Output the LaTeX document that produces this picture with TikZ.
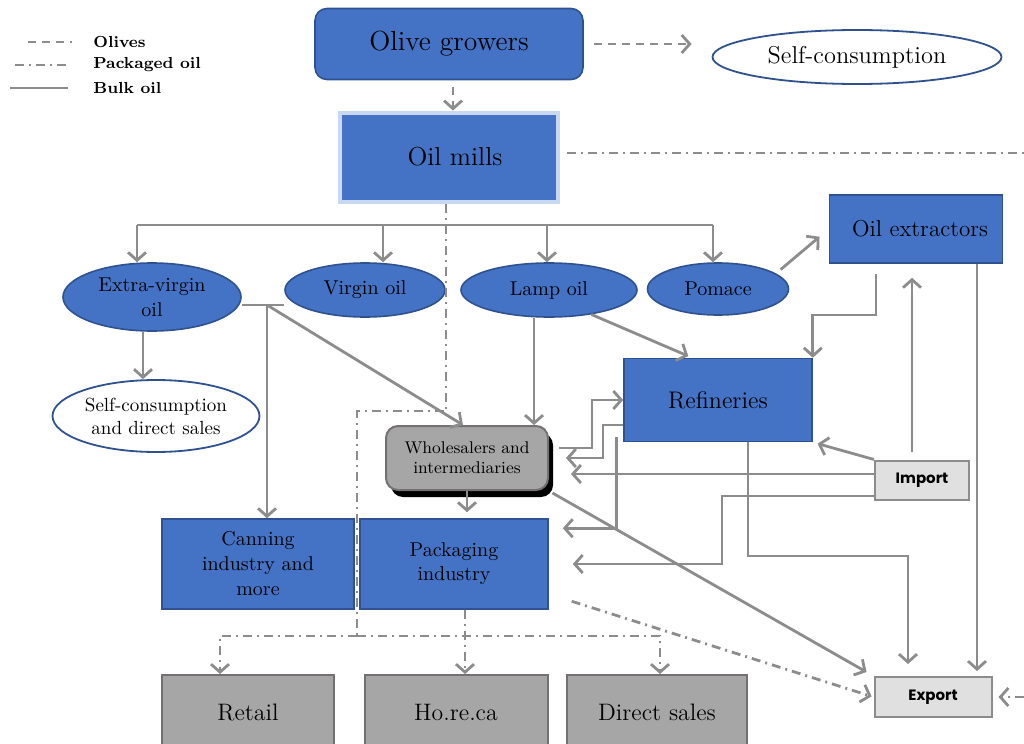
\documentclass[tikz,border=0pt]{standalone}
\usepackage{fontspec}
\newfontfamily\gothicfont{Poppins}
\usetikzlibrary{shapes.geometric, arrows.meta, positioning, calc, shadows}

\definecolor{millblue}{HTML}{4472C4}
\definecolor{milledge}{HTML}{2F528F}
\definecolor{glowblue}{HTML}{C9D8F2}
\definecolor{flowgray}{HTML}{8C8C8C}
\definecolor{shopgray}{HTML}{A6A6A6}
\definecolor{shopedge}{HTML}{767171}
\definecolor{tradegray}{HTML}{E0E0E0}

\begin{document}
\begin{tikzpicture}[
    x=0.5pt, y=-0.5pt,
    stage/.style={rectangle, draw=milledge, line width=0.8pt, fill=millblue, align=center, inner sep=2pt, font=\fontsize{10pt}{12.5pt}\selectfont},
    product/.style={ellipse, draw=milledge, line width=0.8pt, fill=millblue, inner sep=0pt, align=center, font=\fontsize{10pt}{12.5pt}\selectfont},
    outlet/.style={ellipse, draw=milledge, line width=0.9pt, fill=white, inner sep=0pt, align=center},
    shop/.style={rectangle, draw=shopedge, line width=1pt, fill=shopgray, minimum height=37.5pt, font=\fontsize{11.9pt}{13pt}\selectfont},
    trade/.style={rectangle, draw=flowgray, line width=1pt, fill=tradegray, font=\gothicfont\bfseries\fontsize{7.5pt}{9pt}\selectfont},
    legendtext/.style={anchor=west, inner sep=0pt, font=\bfseries\fontsize{8pt}{9pt}\selectfont},
    bulk/.style={draw=flowgray, line width=1.4pt},
    olives/.style={bulk, dash pattern=on 4pt off 3pt},
    packed/.style={bulk, dash pattern=on 4.5pt off 2.5pt on 1pt off 2.5pt},
    tip/.style={-{Straight Barb[length=4pt, width=9pt]}},
    arrow/.style={bulk, tip},
    olivearrow/.style={olives, tip},
    packedarrow/.style={packed, tip}
]
\useasboundingbox (0,0) rectangle (1024,744);

% legend
\node (lgolive) [legendtext] at (93,42) {Olives};
\node (lgpack) [legendtext] at (93,65) {Packaged oil};
\node (lgbulk) [legendtext] at (93,88) {Bulk oil};
\draw [olives] (28,42) -- (72,42);
\draw [packed] (15,65) -- (70,65);
\draw [bulk] (10,88) -- (68,88);

% growers and mills
\node (grow) [stage, rounded corners=6pt, minimum width=134pt, minimum height=35.5pt, font=\fontsize{13.8pt}{16pt}\selectfont] at (449,44) {Olive growers};
\node (selfc) [outlet, minimum width=144.5pt, minimum height=27pt, font=\fontsize{12.2pt}{14pt}\selectfont] at (857,57) {Self-consumption};
\node (mills) [stage, draw=glowblue, line width=2pt, minimum width=109pt, minimum height=44.5pt, font=\fontsize{13pt}{15pt}\selectfont] at (449,157) {\hspace*{6pt}Oil mills};

% oils
\node (evo) [product, minimum width=89pt, minimum height=34pt] at (152,297) {Extra-virgin\\oil};
\node (virgin) [product, minimum width=80pt, minimum height=27pt] at (365,290) {Virgin oil};
\node (lamp) [product, minimum width=88pt, minimum height=27pt] at (549,290) {Lamp oil};
\node (pomace) [product, minimum width=70.5pt, minimum height=26pt] at (718,289) {Pomace};
\node (selfd) [outlet, minimum width=103.5pt, minimum height=36pt, font=\fontsize{9.5pt}{11.5pt}\selectfont] at (156,416) {Self-consumption\\and direct sales};

% processing
\node (extr) [stage, minimum width=86.5pt, minimum height=34pt, font=\fontsize{11.5pt}{13pt}\selectfont] at (916,229) {\hspace*{4pt}Oil extractors};
\node (refin) [stage, minimum width=94pt, minimum height=41.5pt, font=\fontsize{12pt}{14pt}\selectfont] at (718,400) {Refineries};
\node (whole) [rectangle, rounded corners=6pt, draw=shopedge, line width=1pt, fill=shopgray, align=center, minimum width=81pt, minimum height=32pt, font=\fontsize{8.5pt}{10pt}\selectfont, drop shadow={shadow xshift=2.5pt, shadow yshift=-3.5pt, fill=black, opacity=1}] at (467,458) {Wholesalers and\\intermediaries};
\node (can) [stage, minimum width=96pt, minimum height=45pt] at (258,564) {Canning\\industry and\\more};
\node (pack) [stage, minimum width=94pt, minimum height=45pt, font=\fontsize{10pt}{12pt}\selectfont] at (454,564) {Packaging\\industry};
\node (imp) [trade, minimum width=47pt, minimum height=19.5pt] at (922,480) {Import};
\node (exp) [trade, minimum width=58.5pt, minimum height=20pt] at (933,697) {Export};

% outlets
\node (retail) [shop, minimum width=86pt] at (248,712.5) {Retail};
\node (horeca) [shop, minimum width=91.5pt] at (456,712.5) {Ho.re.ca};
\node (direct) [shop, minimum width=90pt] at (657,712.5) {Direct sales};

% olives
\draw [olivearrow, shorten <=5pt, shorten >=10pt] (grow.east) -- (grow.east -| selfc.west);
\draw [olivearrow, shorten <=3.5pt] (grow.south -| 453,0) -- (mills.north -| 453,0);

% packaged oil
\coordinate (millsout) at (1024,153);
\coordinate (pkA) at (446,411);
\coordinate (pkB) at (357,411);
\coordinate (pkC) at (357,636);
\coordinate (expin) at (1024,697);
\draw [packed, shorten <=3.5pt] (mills.east |- millsout) -- (millsout);
\draw [packed] (mills.south -| pkA) -- (pkA) -- (pkB) -- (pkC);
\draw [packedarrow] (pkC) -| (retail.north -| 220,0);
\draw [packedarrow] (pkC) -| (direct.north -| 660,0);
\draw [packedarrow] (pack.south -| 465,0) -- (horeca.north -| 465,0);
\coordinate (packE) at ([yshift=-15pt]pack.east);
\draw [packedarrow, shorten <=12pt, shorten >=1pt] (packE) -- (exp.west);
\draw [packedarrow, shorten >=3pt] (expin) -- (exp.east);

% bulk oil
\coordinate (barL) at (137,225);
\coordinate (barR) at (713,225);
\draw [bulk] (barL) -- (barR);
\foreach \oil/\xx in {evo/137, virgin/383, lamp/547, pomace/713}
    \draw [arrow] (\xx,225) -- (\xx,225 |- \oil.north);
\coordinate (jn) at (267,305);
\draw [bulk] (jn -| evo.east) -- (jn -| virgin.west);
\draw [arrow] (evo.south -| 143,0) -- (selfd.north -| 143,0);
\draw [arrow] (jn) -- (jn |- can.north);
\draw [arrow] (jn) -- (whole.north -| 463,0);
\draw [arrow] (lamp.south -| 534,0) -- (whole.north -| 534,0);
\draw [arrow, shorten >=2pt] (lamp.-30) -- (refin.north -| 692,0);
\draw [arrow, shorten <=3pt, shorten >=6pt] (pomace.15) -- (extr.west);
\draw [arrow, shorten <=5pt] (extr.south -| 876,0) -- (876,315) -| (refin.north east);
\draw [arrow, shorten <=4pt, shorten >=7pt] (imp.north -| 912,0) -- (extr.south -| 912,0);
\draw [arrow, shorten >=2.5pt] (imp.north west) -- (refin.south east);
\coordinate (impW1) at ([yshift=3pt]imp.west);
\coordinate (impW2) at ([yshift=-8pt]imp.west);
\draw [arrow, shorten >=11pt] (impW1) -- (whole.east |- impW1);
\draw [arrow, shorten >=12pt] (impW2) -- (impW2 -| 722,0) |- (pack.east);
\draw [arrow, shorten >=6pt] (refin.south -| 748,0) -- (748,556) -| (exp.north -| 908,0);
\draw [arrow, shorten >=2.5pt] (extr.south -| 977,0) -- (exp.north -| 977,0);
\draw [arrow, shorten <=2pt, shorten >=4pt] (whole.south east) -- (exp.north west);
\coordinate (wholeE) at ([yshift=5pt]whole.east);
\coordinate (refinW) at ([yshift=-12.5pt]refin.west);
\coordinate (refinSW) at ([xshift=-3.5pt, yshift=2.5pt]refin.south west);
\coordinate (packNE) at ([yshift=-5pt]pack.north east);
\draw [arrow, shorten <=5pt] (wholeE) -- (wholeE -| 592,0) |- (refin.west);
\draw [arrow, shorten >=8.5pt] (refinW) -- (refinW -| 603,0) |- (whole.east);
\draw [arrow, shorten >=7pt] (refinSW) |- (packNE);
\draw [arrow, shorten >=3pt] (whole.south) -- (whole.south |- pack.north);

\end{tikzpicture}
\end{document}
